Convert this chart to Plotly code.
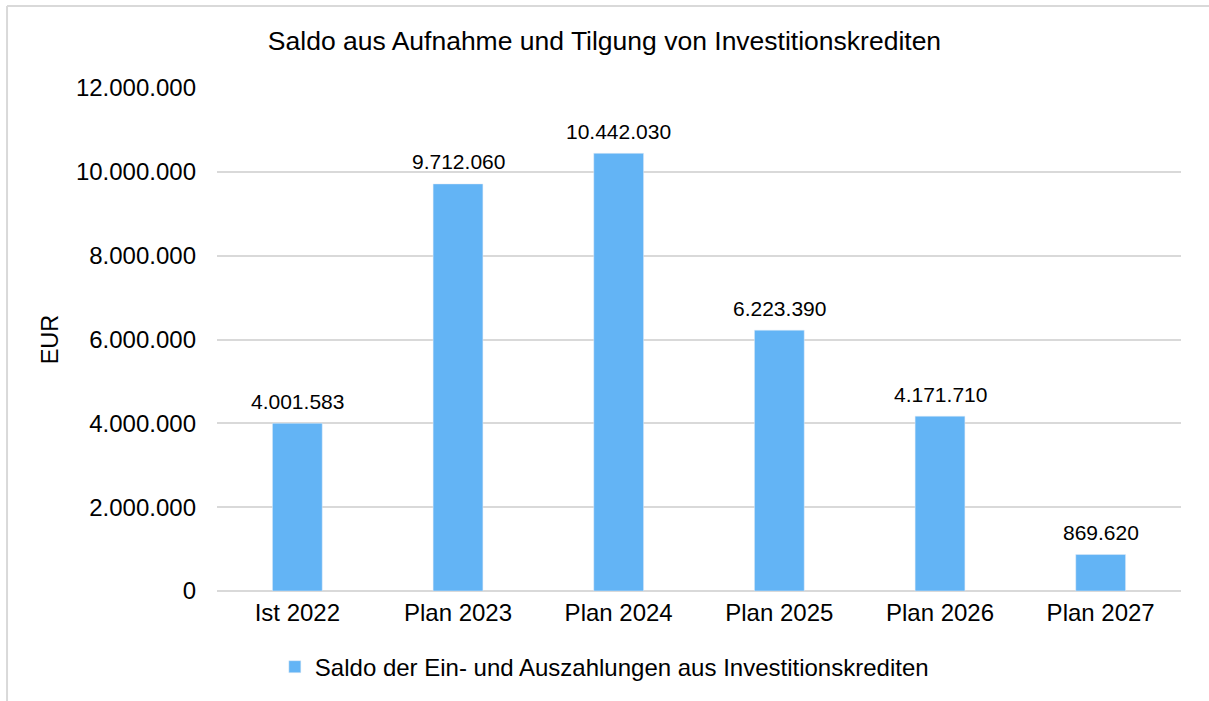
import plotly.graph_objects as go

# Daten
kategorien = ["Ist 2022", "Plan 2023", "Plan 2024", "Plan 2025", "Plan 2026", "Plan 2027"]
saldo = [4001583, 9712060, 10442030, 6223390, 4171710, 869620]
y_ticks = [0, 2000000, 4000000, 6000000, 8000000, 10000000, 12000000]

def de_format(v):
    return f"{v:,}".replace(",", ".")

FONT = "Liberation Sans, Arial, sans-serif"
GRID = "#D9D9D9"

fig = go.Figure()
fig.add_trace(go.Bar(
    x=kategorien,
    y=saldo,
    name="Saldo der Ein- und Auszahlungen aus Investitionskrediten",
    marker=dict(color="#63B4F5"),
    width=0.31,
))

# Datenbeschriftungen oberhalb der Balken
for k, v in zip(kategorien, saldo):
    fig.add_annotation(x=k, y=v, text=de_format(v), showarrow=False,
                       yanchor="middle", yshift=22,
                       font=dict(family=FONT, size=21, color="#000000"))

fig.update_layout(
    width=1209, height=701,
    paper_bgcolor="white", plot_bgcolor="white",
    font=dict(family=FONT, size=24, color="#000000"),
    title=dict(text="Saldo aus Aufnahme und Tilgung von Investitionskrediten",
               x=0.5, xanchor="center", y=0.942, yanchor="middle",
               font=dict(family=FONT, size=26.5, color="#000000")),
    margin=dict(l=217, r=28, t=88, b=109),
    showlegend=True,
    legend=dict(orientation="h", x=0.06, xanchor="left", y=-0.149, yanchor="middle",
                font=dict(family=FONT, size=24, color="#000000"),
                itemwidth=30),
    shapes=[
        # Rahmen oben und links
        dict(type="line", xref="paper", yref="paper", x0=-0.2178, x1=1.03, y0=1.163, y1=1.163,
             line=dict(color=GRID, width=2)),
        dict(type="line", xref="paper", yref="paper", x0=-0.2178, x1=-0.2178, y0=-0.3, y1=1.163,
             line=dict(color=GRID, width=2)),
    ],
)

fig.update_xaxes(showgrid=False, showline=False, ticks="", tickfont=dict(size=24),
                 ticklabelstandoff=5, automargin=False)
fig.update_yaxes(range=[0, 12000000], tickvals=y_ticks,
                 ticktext=[de_format(v) for v in y_ticks],
                 showgrid=True, gridcolor=GRID, gridwidth=2,
                 zeroline=True, zerolinecolor=GRID, zerolinewidth=2,
                 showline=False, ticks="", tickfont=dict(size=24),
                 ticklabelstandoff=20, automargin=False,
                 title=dict(text="EUR", font=dict(size=23.5), standoff=10))

fig.write_html("out.html", config={"displayModeBar": False},
               post_script="document.body.style.margin='0';")
